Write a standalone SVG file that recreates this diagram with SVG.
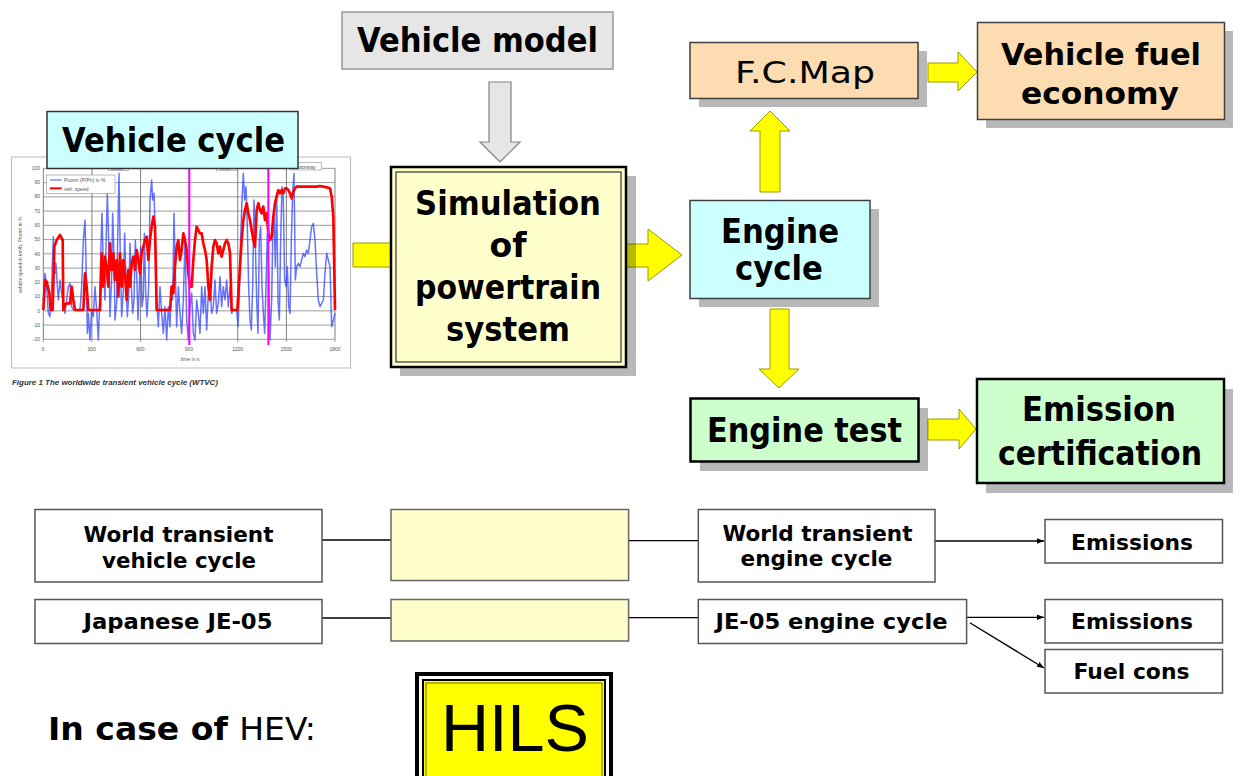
<svg xmlns="http://www.w3.org/2000/svg" width="1240" height="776" viewBox="0 0 1240 776">
<style>
.t{font-family:"DejaVu Sans","Liberation Sans",sans-serif;font-weight:bold;fill:#000;text-anchor:middle}
.big{font-size:33px}
.sm{font-size:22px}
.reg{font-weight:normal}
.ya{fill:#ffff00;stroke:#9a9a00;stroke-width:1}
.sh{fill:#000;fill-opacity:0.28}
.wb{fill:#fff;stroke:#555;stroke-width:1.5}
.yb{fill:#ffffcc;stroke:#666;stroke-width:1.5}
.ln{stroke:#000;stroke-width:1.3;fill:none}
.ct{font-family:"Liberation Sans",sans-serif;fill:#555;font-size:5px}
</style>
<defs>
<marker id="ah" viewBox="0 0 10 10" refX="10" refY="5" markerWidth="7" markerHeight="7" markerUnits="userSpaceOnUse" orient="auto"><path d="M0,1 L10,5 L0,9 Z" fill="#000"/></marker>
</defs>
<rect width="1240" height="776" fill="#fff"/>

<!-- chart -->
<g id="chart">
<rect x="11.5" y="157" width="339" height="211" fill="#fff" stroke="#bbb" stroke-width="1"/>
<g transform="matrix(0.33333,0,0,0.33333,0,100)">
<g stroke="#888" stroke-width="2.5" fill="none">
<path d="M130,205H1005M130,247.75H1005M130,290.5H1005M130,333.25H1005M130,376H1005M130,418.75H1005M130,461.5H1005M130,504.25H1005M130,547H1005M130,589.75H1005M130,632.5H1005M130,675.25H1005M130,718H1005"/>
<path d="M130,205V718M275.8,205V718M421.7,205V718M567.5,205V718M713.3,205V718M859.2,205V718M1005,205V718" stroke="#666"/>
</g>
<g stroke="#666" stroke-width="2">
<path d="M130,718v8M275.8,718v8M421.7,718v8M567.5,718v8M713.3,718v8M859.2,718v8M1005,718v8"/>
</g>
<polyline fill="none" stroke="#3344ff" stroke-opacity="0.75" stroke-width="4.5" stroke-linejoin="round" points="130,600 135,520 140,560 145,640 150,650 155,560 160,410 165,520 168,490 172,560 175,600 180,540 185,580 190,610 195,640 200,600 205,560 210,550 215,620 220,630 240,630 245,560 250,420 255,360 258,480 262,700 265,640 270,720 275,630 280,650 285,560 290,630 295,720 300,580 303,430 306,340 310,500 315,600 318,440 322,280 326,420 330,650 335,530 338,340 342,470 345,660 350,610 353,420 357,220 361,480 365,650 370,570 374,400 378,540 382,650 386,590 390,430 394,560 398,640 402,600 406,420 410,520 414,660 418,560 422,440 426,620 430,590 433,400 437,580 441,650 446,560 450,300 455,240 458,300 462,280 466,400 470,600 475,680 480,560 485,640 490,700 495,620 500,720 505,620 510,680 514,560 518,600 522,340 526,520 530,680 535,560 540,640 545,700 550,600 555,420 560,660 565,720 570,620 575,580 580,700 585,720 590,600 595,640 600,700 605,560 610,640 615,560 620,690 625,580 630,560 635,640 640,620 645,540 650,640 655,610 660,530 665,620 670,560 675,600 680,540 685,620 690,560 695,640 700,630 710,630 714,680 718,580 722,420 726,300 730,220 734,300 738,260 742,380 746,560 750,660 754,690 758,560 762,300 766,430 770,600 774,700 778,420 782,380 786,560 790,640 794,700 798,560 802,400 806,500 810,720 815,600 818,420 822,340 826,500 830,280 834,600 838,660 842,420 846,260 850,300 854,540 858,560 862,500 866,620 870,640 874,420 878,280 882,220 886,540 890,500 895,490 900,500 905,480 910,460 915,470 920,450 925,460 930,420 935,380 940,370 945,420 950,520 955,600 960,620 965,610 970,600 975,520 980,460 985,480 990,500 995,680 1000,660 1005,640"/>
<polyline fill="none" stroke="#ff0000" stroke-width="8" stroke-linejoin="round" points="130,630 135,540 140,545 148,580 152,630 158,630 163,440 170,420 180,405 188,420 190,630 195,615 200,610 210,610 215,560 220,600 225,630 250,630 255,520 260,560 265,630 300,630 305,460 310,560 315,470 320,500 325,560 330,430 335,510 340,460 345,540 350,480 355,590 360,460 365,560 370,480 375,520 380,600 385,510 390,560 395,490 400,470 405,510 410,450 415,480 420,520 425,460 430,440 435,420 440,410 445,480 450,420 455,380 460,350 465,380 470,630 510,630 515,560 520,580 525,500 530,440 535,420 540,480 545,450 550,400 555,420 560,450 565,520 570,560 575,560 580,480 585,420 590,380 595,390 600,400 605,400 610,430 615,450 620,480 625,560 630,600 635,500 640,440 645,420 650,430 655,460 660,440 665,470 670,450 675,430 680,420 685,430 690,460 695,630 712,630 715,580 720,500 725,420 730,360 735,330 740,310 745,340 750,360 755,390 760,420 765,440 770,330 775,310 780,330 785,340 790,320 795,360 800,340 805,400 810,420 815,410 820,350 825,310 830,290 835,270 840,280 845,270 850,280 855,265 860,265 865,270 870,280 875,295 880,275 885,265 890,260 950,260 960,258 980,262 990,265 995,290 1000,350 1005,630"/>
<path d="M568,205V735M805,205V735" stroke="#ff00ff" stroke-width="6"/>
<rect x="140" y="225" width="205" height="55" fill="#fff" stroke="#999" stroke-width="2"/>
<path d="M150,240H185" stroke="#4455ff" stroke-width="3"/>
<path d="M150,265H185" stroke="#ff0000" stroke-width="6"/>
<rect x="325" y="195" width="60" height="16" fill="#fff" stroke="#999" stroke-width="2"/>
<rect x="650" y="195" width="60" height="16" fill="#fff" stroke="#999" stroke-width="2"/>
<rect x="870" y="188" width="95" height="22" fill="#fff" stroke="#999" stroke-width="2"/>
</g>
<text class="ct" x="64" y="182" font-size="4">Pnorm (P/Pn) in %</text>
<text class="ct" x="64" y="190.5" font-size="4">veh. speed</text>
<text class="ct" x="294" y="168.5" font-size="4">motorway</text>
<text class="ct" x="111" y="169.5" font-size="4">urban</text>
<text class="ct" x="220" y="169.5" font-size="4">rural</text>
<g class="ct" text-anchor="end">
<text x="40" y="170">100</text><text x="40" y="184">90</text><text x="40" y="198">80</text><text x="40" y="213">70</text><text x="40" y="227">60</text><text x="40" y="241">50</text><text x="40" y="256">40</text><text x="40" y="270">30</text><text x="40" y="284">20</text><text x="40" y="298">10</text><text x="40" y="313">0</text><text x="40" y="327">-10</text><text x="40" y="341">-20</text>
</g>
<g class="ct" text-anchor="middle">
<text x="43" y="351">0</text><text x="91.7" y="351">300</text><text x="140.3" y="351">600</text><text x="189" y="351">900</text><text x="237.7" y="351">1200</text><text x="286.3" y="351">1500</text><text x="335" y="351">1800</text>
<text x="190" y="361">time in s</text>
</g>
<text class="ct" x="0" y="0" font-size="4.5" text-anchor="middle" transform="translate(22,255) rotate(-90)">vehicle speed in km/h, Pnorm in %</text>
<text x="12" y="385" font-family="Liberation Sans,sans-serif" font-size="6.5" font-style="italic" font-weight="bold" fill="#333" textLength="206" lengthAdjust="spacingAndGlyphs">Figure 1 The worldwide transient vehicle cycle (WTVC)</text>
</g>

<!-- connectors -->
<g id="connectors">
<polygon points="489,82 511,82 511,142 520,142 500,162 480,142 489,142" fill="#e6e6e6" stroke="#808080" stroke-width="1.2"/>
<polygon class="ya" points="353,243 400,243 400,233 418,255 400,277 400,267 353,267"/>
<polygon class="ya" points="610,244 648,244 648,229 682,255 648,281 648,267 610,267"/>
<polygon class="ya" points="760,192 760,131 750,131 770,111 790,131 780,131 780,192"/>
<polygon class="ya" points="928,63 958,63 958,52 977,72 958,91 958,82 928,82"/>
<polygon class="ya" points="770,309 789,309 789,369 799,369 779,388 759,369 770,369"/>
<polygon class="ya" points="928,419 959,419 959,409 976,429 959,449 959,440 928,440"/>
<path class="ln" d="M322,540H391M628.6,540.7H698M322,618H391M628.6,617.7H698"/>
<path class="ln" d="M935,541H1044" marker-end="url(#ah)"/>
<path class="ln" d="M966.6,617.3H1044" marker-end="url(#ah)"/>
<path class="ln" d="M969.8,622.7L1044,668" marker-end="url(#ah)"/>
</g>

<g id="vehicle-model">
<rect x="342" y="12" width="271" height="57" fill="#e6e6e6" stroke="#999" stroke-width="1.5"/>
<text class="t big" x="477.5" y="52" font-size="34" textLength="241" lengthAdjust="spacingAndGlyphs">Vehicle model</text>
</g>

<g id="vehicle-cycle">
<rect x="47" y="111.5" width="251" height="57" fill="#ccffff" stroke="#333" stroke-width="1.5"/>
<text class="t big" x="173.5" y="152" textLength="223" lengthAdjust="spacingAndGlyphs">Vehicle cycle</text>
</g>

<g id="simulation">
<rect class="sh" x="400" y="176" width="236" height="200"/>
<rect x="391" y="167" width="235" height="200" fill="#ffffcc" stroke="#000" stroke-width="2.5"/>
<rect x="396" y="172" width="225" height="190" fill="none" stroke="#333" stroke-width="1.2"/>
<text class="t big" x="508" y="215" textLength="186" lengthAdjust="spacingAndGlyphs">Simulation</text>
<text class="t big" x="508" y="257">of</text>
<text class="t big" x="508" y="299" textLength="186" lengthAdjust="spacingAndGlyphs">powertrain</text>
<text class="t big" x="508" y="341" textLength="124" lengthAdjust="spacingAndGlyphs">system</text>
</g>

<g id="fc-map">
<rect class="sh" x="699" y="51" width="228" height="56"/>
<rect x="690" y="42.5" width="228" height="56" fill="#fcdcb0" stroke="#404040" stroke-width="1.5"/>
<text class="t reg" x="805" y="83" font-size="30" textLength="140" lengthAdjust="spacingAndGlyphs">F.C.Map</text>
</g>

<g id="vehicle-fuel-economy">
<rect class="sh" x="986" y="31" width="247" height="97"/>
<rect x="977.5" y="22.5" width="247" height="97" fill="#fcdcb0" stroke="#404040" stroke-width="1.5"/>
<text class="t" x="1101" y="65" font-size="31" textLength="200" lengthAdjust="spacingAndGlyphs">Vehicle fuel</text>
<text class="t" x="1100" y="104" font-size="31" textLength="158" lengthAdjust="spacingAndGlyphs">economy</text>
</g>

<g id="engine-cycle">
<rect class="sh" x="699" y="209" width="180" height="98"/>
<rect x="690" y="200.5" width="180" height="98" fill="#ccffff" stroke="#404040" stroke-width="1.5"/>
<text class="t big" x="780" y="243" textLength="118" lengthAdjust="spacingAndGlyphs">Engine</text>
<text class="t big" x="779" y="280" textLength="88" lengthAdjust="spacingAndGlyphs">cycle</text>
</g>

<g id="engine-test">
<rect class="sh" x="700" y="408" width="228" height="63"/>
<rect x="690.5" y="398.5" width="228" height="63" fill="#ccffcc" stroke="#000" stroke-width="2.5"/>
<text class="t big" x="804.5" y="441.5" textLength="195" lengthAdjust="spacingAndGlyphs">Engine test</text>
</g>

<g id="emission-certification">
<rect class="sh" x="986" y="389" width="247" height="104"/>
<rect x="977" y="379" width="247" height="104" fill="#ccffcc" stroke="#000" stroke-width="2.5"/>
<text class="t big" x="1099" y="420.5" textLength="154" lengthAdjust="spacingAndGlyphs">Emission</text>
<text class="t big" x="1100" y="465" textLength="204" lengthAdjust="spacingAndGlyphs">certification</text>
</g>

<g id="world-vehicle-cycle">
<rect class="wb" x="35" y="509.5" width="287" height="72.5"/>
<text class="t sm" x="178.5" y="541.5" textLength="190" lengthAdjust="spacingAndGlyphs">World transient</text>
<text class="t sm" x="179" y="568" textLength="154" lengthAdjust="spacingAndGlyphs">vehicle cycle</text>
</g>
<g id="sim-box-1"><rect class="yb" x="391" y="509.5" width="237.6" height="71"/></g>
<g id="world-engine-cycle">
<rect class="wb" x="698.3" y="509.5" width="236.7" height="72.5"/>
<text class="t sm" x="817.5" y="541" textLength="190" lengthAdjust="spacingAndGlyphs">World transient</text>
<text class="t sm" x="816.5" y="566" textLength="152" lengthAdjust="spacingAndGlyphs">engine cycle</text>
</g>
<g id="emissions-1">
<rect class="wb" x="1045" y="519.5" width="177.5" height="43.5"/>
<text class="t sm" x="1132" y="550" textLength="122" lengthAdjust="spacingAndGlyphs">Emissions</text>
</g>
<g id="japanese-je05">
<rect class="wb" x="35" y="599.5" width="287" height="44"/>
<text class="t sm" x="178" y="628.5" textLength="189" lengthAdjust="spacingAndGlyphs">Japanese JE-05</text>
</g>
<g id="sim-box-2"><rect class="yb" x="391" y="599.5" width="237.6" height="41.5"/></g>
<g id="je05-engine-cycle">
<rect class="wb" x="698.3" y="599.5" width="268.3" height="44"/>
<text class="t sm" x="831.5" y="628.5" textLength="232" lengthAdjust="spacingAndGlyphs">JE-05 engine cycle</text>
</g>
<g id="emissions-2">
<rect class="wb" x="1045" y="599.5" width="177.5" height="43.5"/>
<text class="t sm" x="1132" y="629" textLength="122" lengthAdjust="spacingAndGlyphs">Emissions</text>
</g>
<g id="fuel-cons">
<rect class="wb" x="1045" y="649.5" width="177.5" height="43.5"/>
<text class="t sm" x="1131.5" y="679" textLength="116" lengthAdjust="spacingAndGlyphs">Fuel cons</text>
</g>

<g id="hev-label">
<text x="48" y="740" font-family="DejaVu Sans,Liberation Sans,sans-serif" font-size="32" font-weight="bold" textLength="268" lengthAdjust="spacingAndGlyphs">In case of <tspan font-weight="normal">HEV:</tspan></text>
</g>

<g id="hils">
<rect x="417" y="674" width="194" height="120" fill="#fff" stroke="#000" stroke-width="4"/>
<rect x="423" y="680" width="182" height="110" fill="#ffff00" stroke="#000" stroke-width="2"/>
<rect x="426" y="683" width="176" height="104" fill="none" stroke="#6b6b00" stroke-width="1"/>
<text x="515" y="751" font-family="Liberation Sans,sans-serif" font-size="66" text-anchor="middle" fill="#000" textLength="148" lengthAdjust="spacingAndGlyphs">HILS</text>
</g>
</svg>
